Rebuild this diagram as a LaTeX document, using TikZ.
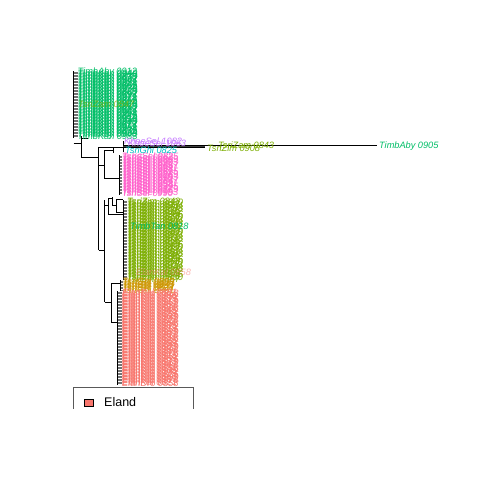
\documentclass[tikz,border=0pt]{standalone}
\usepackage{fontspec}
\setmainfont{Liberation Sans}
\definecolor{cgreen}{HTML}{00BE67}
\definecolor{colive}{HTML}{7CAE00}
\definecolor{corange}{HTML}{CD9600}
\definecolor{csalmon}{HTML}{F8766D}
\definecolor{ccyan}{HTML}{00BFC4}
\definecolor{cpurple}{HTML}{C77CFF}
\definecolor{cpink}{HTML}{FF61CC}
% #1 comb x, #2 label x, #3 first y, #4 count-1, #5 spacing, #6 colour, #7 name A, #8 name B, #9 seed
\newcommand\tipblock[9]{%
  \foreach \i in {0,...,#4}{%
    \pgfmathsetmacro\yy{#3+\i*#5}%
    \pgfmathtruncatemacro\num{mod(\i*37+#9,190)+810}%
    \node[lab,text=#6] (tip-#6-\i) at (#2,\yy) {\ifodd\i #7\else #8\fi\ 0\num};
    \draw[tick] (#1,\yy) -- (tip-#6-\i.west);
  }%
  \pgfmathsetmacro\ylast{#3+#4*#5}%
  \draw[br] (#1,#3-1) -- (#1,\ylast+1);
}
\begin{document}
\begin{tikzpicture}[x=1pt,y=-1pt,
  lab/.style={anchor=west,inner sep=0pt,font=\fontsize{9.2}{10}\selectfont\itshape},
  br/.style={line width=0.7pt,black},
  tick/.style={line width=0.6pt,black!55},
  leg/.style={line width=0.7pt,black!65}]
\useasboundingbox (0,0) rectangle (480,480);
\fill[white] (0,0) rectangle (480,480);

% ---- backbone of the tree ----
\draw[br] (73.5,143) -- (81,143);
\draw[br] (81,136) -- (81,157);
\draw[br] (81,138) -- (88,138);
\draw[br] (81,157) -- (98.5,157);
\draw[br] (98.5,147) -- (98.5,250);
\draw[br] (98.5,147) -- (123,147);
\draw[br] (123,141) -- (123,152);
% long branch and the two olive tips on it
\draw[line width=1.1pt,black!75] (123,146.5) -- (205,146.5);
\draw[br] (123,145.7) coordinate (lbs) -- (377,145.7) coordinate (lbe);
\draw[br] (123,147.5) -- (205,147.5);
\draw[br] (123,145) -- (216,145);
% pink subtree
\draw[br] (98.5,165) -- (104,165);
\draw[br] (104,150) -- (104,178);
\draw[br] (104,150) -- (113,150);
\draw[br] (113,148) -- (113,153);
\draw[br] (104,178) -- (118.5,178);
% olive / lower subtree
\draw[br] (98.5,250) -- (104.5,250);
\draw[br] (104.5,200) -- (104.5,302);
\draw[br] (104.5,205) -- (108,205);
\draw[br] (108,198) -- (108,214);
\draw[br] (108,198) -- (112,198);
\draw[br] (112,197) -- (112,205);
\draw[br] (112,205) -- (116,205);
\draw[br] (116,199) -- (116,212);
\draw[br] (116,199) -- (123,199);
\draw[br] (116,212) -- (123,212);
\draw[br] (108,214) -- (123,214);
\draw[br] (104.5,302) -- (111,302);
\draw[br] (111,283) -- (111,322);
\draw[br] (111,283) -- (120,283);
\draw[br] (111,322) -- (117,322);

% ---- tip blocks ----
\tipblock{73.5}{77.5}{72}{43}{1.5}{cgreen}{TimbKan}{TimbAby}{102}
\node[lab,text=colive,opacity=0.75] (oz) at (78,104) {TsriZam 0847};
\tipblock{119}{122}{156}{25}{1.5}{cpink}{TsriSel}{TshoSel}{15}
\tipblock{123}{127}{201}{52}{1.5}{colive}{TsriZam}{TsriZim}{33}
\node[lab,text=csalmon,opacity=0.5] (sx) at (136,272) {ElanKal 0858};
\node[lab,text=cgreen] (tt) at (130,226) {TimbTan 0818};
\tipblock{120}{122.5}{281}{6}{1.5}{corange}{TsriSel}{TsriGhi}{59}
\tipblock{117.5}{122}{292}{61}{1.5}{csalmon}{ElanDro}{ElanKal}{71}

% tips near the long branch
\node[lab,text=cpurple] (p1) at (124,141.5) {KhoeSel 1082};
\node[lab,text=cpurple] (p2) at (128,143) {KhoeSel 1063};
\node[lab,text=ccyan] (c1) at (125,150) {TsriGhi 0825};
\node[lab,text=colive] (oa) at (218,145) {TsriZam 0843};
\node[lab,text=colive] (ob) at (207,147.8) {TsriZim 0908};
\node[lab,text=cgreen] (ta) at (379,145.7) {TimbAby 0905};

% ---- legend (clipped) ----
\begin{scope}
\clip (60,380) rectangle (220,408);
\draw[leg] (73,412) -- (73,387) -- (193,387) -- (193,412);
\draw[line width=0.6pt,black,fill=csalmon] (84.5,399) rectangle (93,406);
\node[anchor=west,inner sep=0pt,font=\fontsize{12.5}{13}\selectfont] (el) at (104,402.5) {Eland};
\end{scope}
\end{tikzpicture}
\end{document}
